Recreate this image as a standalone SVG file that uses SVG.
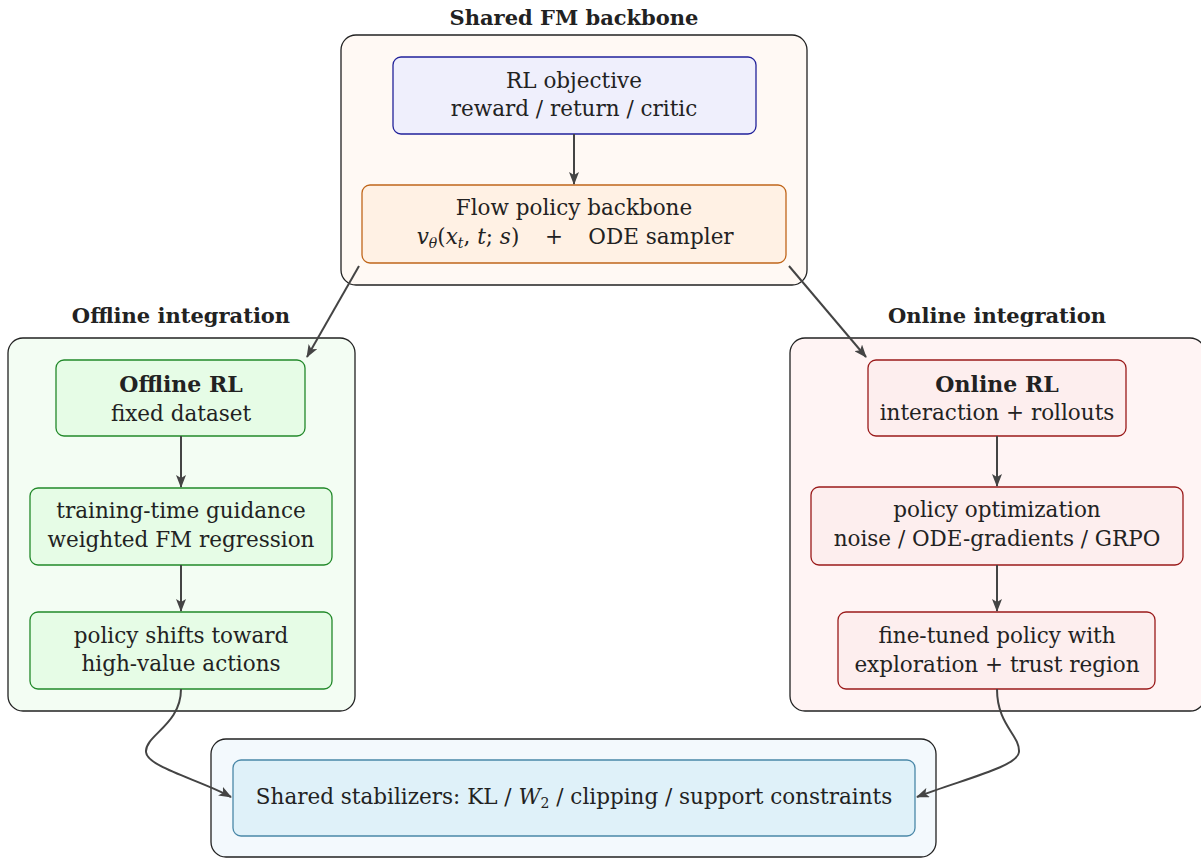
<svg xmlns="http://www.w3.org/2000/svg" width="1201" height="859" viewBox="0 0 1201 859">
<defs>
<marker id="ah" viewBox="0 0 13 10" refX="12" refY="5" markerWidth="13" markerHeight="10" markerUnits="userSpaceOnUse" orient="auto">
<path d="M0,0 L13,5 L0,10 L3,5 Z" fill="#444"/>
</marker>
<style>
.t{font-family:"DejaVu Serif","Liberation Serif",serif;font-size:21.5px;fill:#222;text-anchor:middle}
.b{font-family:"DejaVu Serif","Liberation Serif",serif;font-size:22px;font-weight:bold;fill:#222;text-anchor:middle}
.h{font-family:"DejaVu Serif","Liberation Serif",serif;font-size:21px;font-weight:bold;fill:#222;text-anchor:middle}
.cl{stroke:#222;stroke-width:1.3}
.e{fill:none;stroke:#444;stroke-width:2}
.i{font-style:italic}
</style>
</defs>
<g id="cluster-top">
<rect class="cl" x="341" y="35" width="466" height="250" rx="15" fill="#fff9f4"/>
<text class="h" x="574" y="25">Shared FM backbone</text>
</g>
<g id="cluster-offline">
<rect class="cl" x="8" y="338" width="347" height="373" rx="15" fill="#f3fdf3"/>
<text class="h" x="181" y="323">Offline integration</text>
</g>
<g id="cluster-online">
<rect class="cl" x="790" y="338" width="415" height="373" rx="15" fill="#fff4f4"/>
<text class="h" x="997" y="323">Online integration</text>
</g>
<g id="cluster-bottom">
<rect class="cl" x="211" y="739" width="725" height="118" rx="15" fill="#f3f9fd"/>
</g>
<g id="rl-objective">
<rect x="393" y="57" width="363" height="77" rx="8" fill="#efeffc" stroke="#22229a" stroke-width="1.3"/>
<text class="t" x="574" y="88">RL objective</text>
<text class="t" x="574" y="116">reward / return / critic</text>
</g>
<g id="flow-policy">
<rect x="362" y="185" width="424" height="78" rx="8" fill="#fff1e4" stroke="#c0661a" stroke-width="1.3"/>
<text class="t" x="574" y="215">Flow policy backbone</text>
<text class="t" x="468" y="244"><tspan class="i">v</tspan><tspan class="i" font-size="14" dy="4">θ</tspan><tspan dy="-4">(</tspan><tspan class="i">x</tspan><tspan class="i" font-size="14" dy="4">t</tspan><tspan dy="-4">, </tspan><tspan class="i">t</tspan>; <tspan class="i">s</tspan>)</text>
<text class="t" x="554" y="244">+</text>
<text class="t" x="661" y="244">ODE sampler</text>
</g>
<g id="offline-rl">
<rect x="56" y="360" width="249" height="76" rx="8" fill="#e6fce6" stroke="#22892a" stroke-width="1.3"/>
<text class="b" x="181" y="392">Offline RL</text>
<text class="t" x="181" y="421">fixed dataset</text>
</g>
<g id="training-guidance">
<rect x="30" y="488" width="302" height="77" rx="8" fill="#e6fce6" stroke="#22892a" stroke-width="1.3"/>
<text class="t" x="181" y="518">training-time guidance</text>
<text class="t" x="181" y="547">weighted FM regression</text>
</g>
<g id="policy-shifts">
<rect x="30" y="612" width="302" height="77" rx="8" fill="#e6fce6" stroke="#22892a" stroke-width="1.3"/>
<text class="t" x="181" y="643">policy shifts toward</text>
<text class="t" x="181" y="671">high-value actions</text>
</g>
<g id="online-rl">
<rect x="868" y="360" width="258" height="76" rx="8" fill="#fdeeee" stroke="#9a1a1a" stroke-width="1.3"/>
<text class="b" x="997" y="392">Online RL</text>
<text class="t" x="997" y="420">interaction + rollouts</text>
</g>
<g id="policy-optimization">
<rect x="811" y="487" width="372" height="78" rx="8" fill="#fdeeee" stroke="#9a1a1a" stroke-width="1.3"/>
<text class="t" x="997" y="517">policy optimization</text>
<text class="t" x="997" y="546">noise / ODE-gradients / GRPO</text>
</g>
<g id="fine-tuned">
<rect x="838" y="612" width="317" height="77" rx="8" fill="#fdeeee" stroke="#9a1a1a" stroke-width="1.3"/>
<text class="t" x="997" y="643">fine-tuned policy with</text>
<text class="t" x="997" y="672">exploration + trust region</text>
</g>
<g id="stabilizers">
<rect x="233" y="760" width="682" height="76" rx="8" fill="#dff1f9" stroke="#4a88a8" stroke-width="1.3"/>
<text class="t" x="574" y="804">Shared stabilizers: KL / <tspan class="i">W</tspan><tspan font-size="14" dy="4">2</tspan><tspan dy="-4"> / clipping / support constraints</tspan></text>
</g>
<g id="connectors">
<path class="e" d="M574,134 L574,184" marker-end="url(#ah)"/>
<path class="e" d="M359,266 L307,357" marker-end="url(#ah)"/>
<path class="e" d="M789,266 L866,357" marker-end="url(#ah)"/>
<path class="e" d="M181,436 L181,487" marker-end="url(#ah)"/>
<path class="e" d="M181,565 L181,611" marker-end="url(#ah)"/>
<path class="e" d="M997,436 L997,486" marker-end="url(#ah)"/>
<path class="e" d="M997,565 L997,611" marker-end="url(#ah)"/>
<path class="e" d="M181,689 C181,725 145,735 146,752 C147,767 200,780 231,797" marker-end="url(#ah)"/>
<path class="e" d="M997,689 C997,725 1020,735 1019,752 C1018,767 960,780 917,797" marker-end="url(#ah)"/>
</g>
</svg>
